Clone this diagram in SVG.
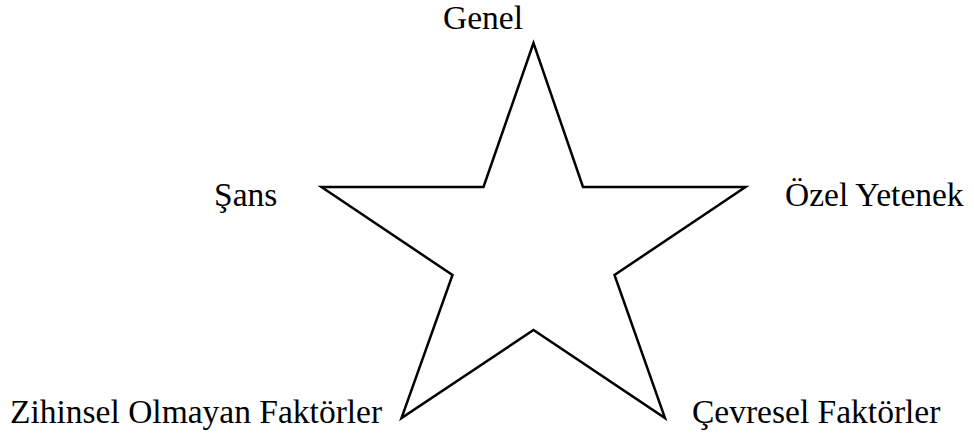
<svg xmlns="http://www.w3.org/2000/svg" width="974" height="434" viewBox="0 0 974 434">
<style>
.lbl{font-family:"Liberation Serif","Times New Roman",serif;font-size:33.5px;fill:#000}
.star{fill:none;stroke:#000;stroke-width:2.5;stroke-linejoin:miter}
</style>
<rect width="974" height="434" fill="#fff"/>
<g id="star">
<polygon class="star" points="533.5,43 483.5,187 321.5,187 452.5,275 401.5,418 533.5,330 665,418 614.5,275 745.5,187 583,187"/>
</g>
<g id="genel"><text class="lbl" x="443" y="29">Genel</text></g>
<g id="sans"><text class="lbl" x="214" y="206">Şans</text></g>
<g id="ozel"><text class="lbl" x="785" y="206">Özel Yetenek</text></g>
<g id="zihinsel"><text class="lbl" x="10" y="423">Zihinsel Olmayan Faktörler</text></g>
<g id="cevresel"><text class="lbl" x="692" y="423">Çevresel Faktörler</text></g>
</svg>
